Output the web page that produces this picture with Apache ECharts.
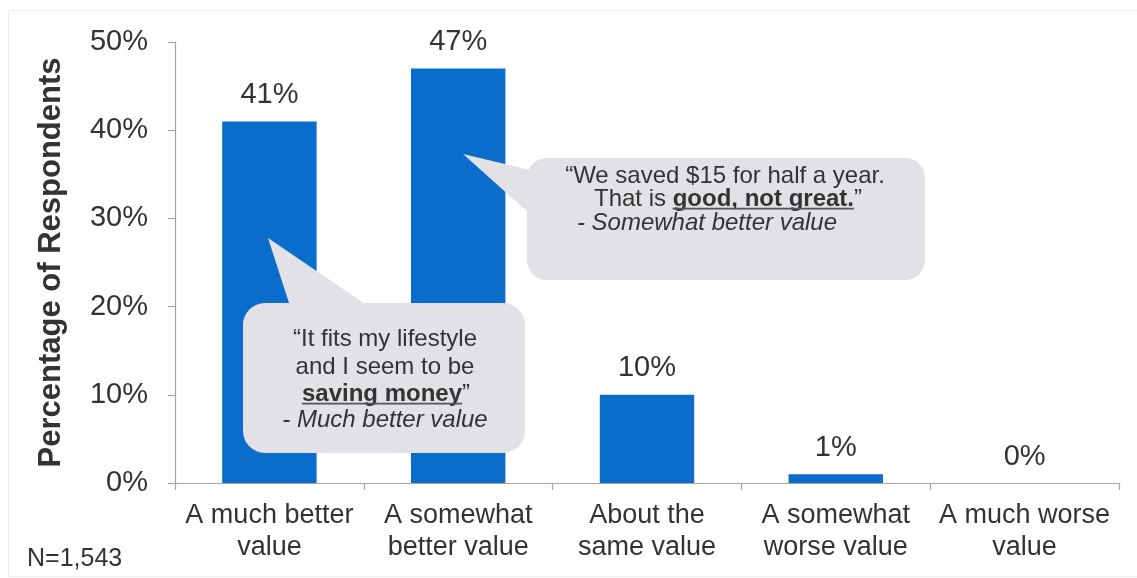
<!DOCTYPE html>
<html>
<head>
<meta charset="utf-8">
<script src="https://cdn.jsdelivr.net/npm/echarts@6/dist/echarts.min.js"></script>
<style>
  html, body { margin: 0; padding: 0; background: #ffffff; }
  #chart { width: 1137px; height: 578px; }
</style>
</head>
<body>
<div id="chart"></div>
<script>
// Survey answers and share of respondents (%)
const categories = [
  'A much better\nvalue',
  'A somewhat\nbetter value',
  'About the\nsame value',
  'A somewhat\nworse value',
  'A much worse\nvalue'
];
const shares = [41, 47, 10, 1, 0];
const yTicks = [0, 10, 20, 30, 40, 50];
const sampleNote = 'N=1,543';
const axisTitle = 'Percentage of Respondents';

const FONT = '"Liberation Sans", Arial, Helvetica, sans-serif';
const TEXT = '#333333';
const BUBBLE = '#e1e1e6';
const QUOTE_SIZE = 24;

// measure text widths so underlines sit under the bold words
const ctx = document.createElement('canvas').getContext('2d');
function fontStr(size, weight, style) {
  return (style || 'normal') + ' ' + (weight || 'normal') + ' ' + size + 'px ' + FONT;
}
function textW(str, size, weight, style) {
  ctx.font = fontStr(size, weight, style);
  return ctx.measureText(str).width;
}

// A centered line built from segments: [text, weight, style, underline]
function lineElements(cx, cy, size, segs, z) {
  const widths = segs.map(s => textW(s[0], size, s[1], s[2]));
  const total = widths.reduce((a, b) => a + b, 0);
  let x = cx - total / 2;
  const els = [];
  segs.forEach((s, i) => {
    els.push({
      type: 'text', z: z,
      x: x, y: cy,
      style: {
        text: s[0], fill: TEXT, font: fontStr(size, s[1], s[2]),
        textAlign: 'left', textVerticalAlign: 'middle'
      }
    });
    if (s[3]) {
      const uy = cy + size * 0.4;
      els.push({
        type: 'line', z: z,
        shape: { x1: x, y1: uy, x2: x + widths[i], y2: uy },
        style: { stroke: '#555555', lineWidth: 1.8 }
      });
    }
    x += widths[i];
  });
  return els;
}

const chart = echarts.init(document.getElementById('chart'), null, { renderer: 'canvas' });

const graphics = [];
// light frame around the figure
graphics.push({
  type: 'rect', z: 0, silent: true,
  shape: { x: 8.5, y: 10.5, width: 1140, height: 566 },
  style: { fill: 'none', stroke: '#ececec', lineWidth: 1 }
});

// callout for "much better value"
graphics.push({
  type: 'polygon', z: 20,
  shape: { points: [[268, 238], [290, 306], [368, 306]] },
  style: { fill: BUBBLE }
});
graphics.push({
  type: 'rect', z: 20,
  shape: { x: 243, y: 303, width: 282, height: 150, r: 22 },
  style: { fill: BUBBLE }
});
graphics.push(...lineElements(385, 339, QUOTE_SIZE, [['\u201CIt fits my lifestyle']], 21));
graphics.push(...lineElements(385, 367, QUOTE_SIZE, [['and I seem to be']], 21));
graphics.push(...lineElements(386, 394, QUOTE_SIZE, [['saving money', 'bold', null, true], ['\u201D']], 21));
graphics.push(...lineElements(385, 420, QUOTE_SIZE, [['- Much better value', 'normal', 'italic']], 21));

// callout for "somewhat better value"
graphics.push({
  type: 'polygon', z: 20,
  shape: { points: [[463, 154], [530, 170], [530, 214]] },
  style: { fill: BUBBLE }
});
graphics.push({
  type: 'rect', z: 20,
  shape: { x: 527, y: 158, width: 398, height: 122, r: 20 },
  style: { fill: BUBBLE }
});
graphics.push(...lineElements(725, 176, QUOTE_SIZE, [['\u201CWe saved $15 for half a year.']], 21));
graphics.push(...lineElements(728, 199, QUOTE_SIZE, [['That is '], ['good, not great.', 'bold', null, true], ['\u201D']], 21));
graphics.push(...lineElements(707, 223, QUOTE_SIZE, [['- Somewhat better value', 'normal', 'italic']], 21));

// sample size note
graphics.push({
  type: 'text', z: 21, x: 27, y: 559,
  style: { text: sampleNote, fill: TEXT, font: fontStr(25), textAlign: 'left', textVerticalAlign: 'middle' }
});

chart.setOption({
  backgroundColor: '#ffffff',
  animation: false,
  textStyle: { fontFamily: FONT },
  grid: { left: 175, right: 18, top: 42, bottom: 95, containLabel: false },
  xAxis: {
    type: 'category',
    data: categories,
    axisLine: { show: true, lineStyle: { color: '#a3a3a8', width: 1.2 } },
    axisTick: { show: true, length: 7, lineStyle: { color: '#a3a3a8', width: 1.2 } },
    axisLabel: { color: TEXT, fontSize: 27, lineHeight: 32, margin: 17, fontFamily: FONT, interval: 0 }
  },
  yAxis: {
    type: 'value',
    min: yTicks[0],
    max: yTicks[yTicks.length - 1],
    interval: yTicks[1] - yTicks[0],
    name: axisTitle,
    nameLocation: 'middle',
    nameGap: 108,
    nameTextStyle: { color: TEXT, fontSize: 31, fontWeight: 'bold', fontFamily: FONT },
    splitLine: { show: false },
    axisLine: { show: true, lineStyle: { color: '#a3a3a8', width: 1.2 } },
    axisTick: { show: true, length: 7, lineStyle: { color: '#a3a3a8', width: 1.2 } },
    axisLabel: { color: TEXT, fontSize: 29, margin: 27, fontFamily: FONT, formatter: '{value}%' }
  },
  series: [{
    type: 'bar',
    data: shares,
    barWidth: '50%',
    z: 2,
    itemStyle: { color: '#0a6dcc' },
    label: {
      show: true,
      position: 'top',
      distance: 12,
      color: TEXT,
      fontSize: 29,
      fontFamily: FONT,
      formatter: p => p.value + '%'
    }
  }],
  graphic: graphics
});
</script>
</body>
</html>
